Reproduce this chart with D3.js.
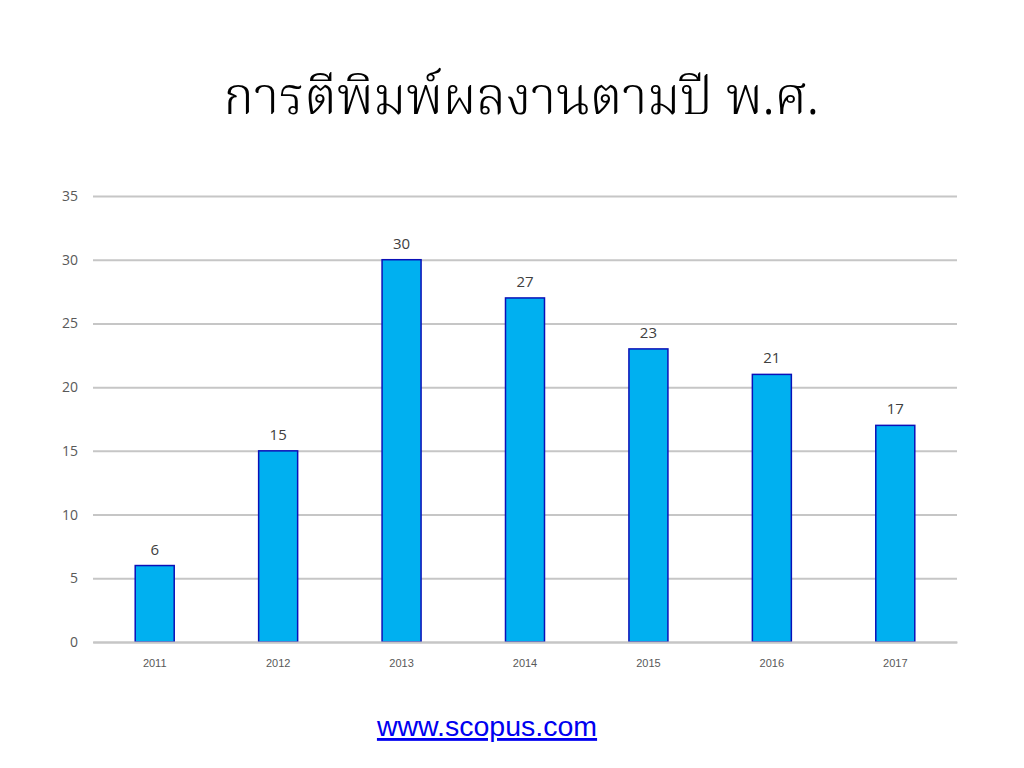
<!DOCTYPE html>
<html><head><meta charset="utf-8">
<script src="https://cdn.jsdelivr.net/npm/d3@7"></script>
<style>body{margin:0;background:#fff}</style>
</head><body>
<svg id="c" width="1024" height="768"></svg>
<script>
const years = ["2011","2012","2013","2014","2015","2016","2017"];
const counts = [6,15,30,27,23,21,17];
const yTicks = [0,5,10,15,20,25,30,35];
const titleText = "การตีพิมพ์ผลงานตามปี พ.ศ.";
const sourceText = "www.scopus.com";

const svg = d3.select("#c");
const m = {l:93, r:957, t:196, b:642};
const x = d3.scaleBand().domain(years).range([m.l, m.r]).paddingInner(0.684).paddingOuter(0.342);
const y = d3.scaleLinear().domain([0,35]).range([m.b, m.t]);

svg.append("text").attr("x",521).attr("y",114).attr("text-anchor","middle")
  .style("font-family","'Noto Serif Thai','Liberation Serif','DejaVu Serif',serif").style("font-size","52px")
  .style("font-weight","300").attr("fill","#000")
  .text(titleText);

const yAxis = svg.append("g").attr("transform",`translate(${m.l},0)`)
  .call(d3.axisLeft(y).tickValues(yTicks).tickSize(-(m.r-m.l)).tickPadding(15));
yAxis.select(".domain").remove();
yAxis.selectAll("line").attr("stroke","#c6c6c6").attr("stroke-width",2);
yAxis.selectAll("text").attr("fill","#595959").style("font-family","'Open Sans','Noto Sans',sans-serif").style("font-size","14px");

svg.selectAll("rect.bar").data(counts).enter().append("rect").attr("class","bar")
  .attr("x",(d,i)=>x(years[i])).attr("width",x.bandwidth())
  .attr("y",d=>y(d)).attr("height",d=>y(0)-y(d))
  .attr("fill","#00B0F0").attr("stroke","#0A10B8").attr("stroke-width",1.5);

svg.selectAll("text.lbl").data(counts).enter().append("text").attr("class","lbl")
  .attr("x",(d,i)=>x(years[i])+x.bandwidth()/2).attr("y",d=>y(d)-11)
  .attr("text-anchor","middle").attr("fill","#404040")
  .style("font-family","'Open Sans','Noto Sans',sans-serif").style("font-size","15px").text(d=>d);

const xAxis = svg.append("g").attr("transform",`translate(0,${m.b})`)
  .call(d3.axisBottom(x).tickSize(0).tickPadding(17));
xAxis.select(".domain").attr("stroke","#c6c6c6").attr("stroke-width",2);
xAxis.selectAll("text").attr("fill","#595959").style("font-family","'Liberation Sans',Arial,sans-serif").style("font-size","11px");

svg.append("text").attr("x",487).attr("y",736).attr("text-anchor","middle")
  .attr("fill","#0000F0").style("font-family","'Liberation Sans',Arial,sans-serif").style("font-size","28.5px")
  .style("text-decoration","underline").text(sourceText);
</script>
</body></html>
